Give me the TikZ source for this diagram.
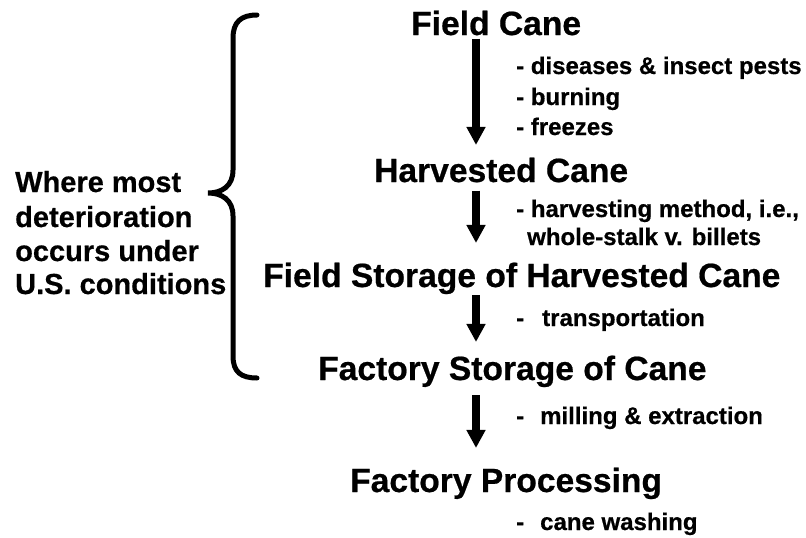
\documentclass[tikz,border=0pt]{standalone}
\usepackage{fontspec}
\setmainfont{Liberation Sans}[BoldFeatures={FakeBold=0.6}]
\usetikzlibrary{arrows.meta}
\begin{document}
\begin{tikzpicture}[x=1pt,y=-1pt,
  title/.style={anchor=base west,inner sep=0pt,font=\fontsize{33.6}{40}\selectfont\bfseries},
  note/.style={anchor=base west,inner sep=0pt,font=\fontsize{24}{28}\selectfont\bfseries},
  side/.style={anchor=base west,inner sep=0pt,font=\fontsize{29}{33}\selectfont\bfseries},
  arr/.style={line width=8pt,-{Triangle[width=18pt,length=18pt]}},
  brace/.style={line width=5pt,line cap=round}]
\useasboundingbox (0,0) rectangle (806,538);
\coordinate (ax) at (476,0);
% stages
\node[title] (fc) at (411,35) {Field Cane};
\node[title] (hc) at (374,182) {Harvested Cane};
\node[title] (fs) at (263,287) {Field Storage of Harvested Cane};
\node[title] (ft) at (318,380) {Factory Storage of Cane};
\node[title] (fp) at (350,492) {Factory Processing};
% notes
\node[note] (n1) at (516,74) {- diseases \& insect pests};
\node[note] (n2) at (516,105) {- burning};
\node[note] (n3) at (516,135) {- freezes};
\node[note] (n4) at (516,217) {- harvesting method, i.e.,};
\node[note] (n5) at (527,245) {whole-stalk v. billets};
\node[note] (n6) at (516,326) {-\hspace{18pt}transportation};
\node[note] (n7) at (516,424) {-\hspace{16pt}milling \& extraction};
\node[note] (n8) at (516,530) {-\hspace{16pt}cane washing};
% side text
\node[side] (s1) at (15,192) {Where most};
\node[side] (s2) at (15,227) {deterioration};
\node[side] (s3) at (15,261) {occurs under};
\node[side] (s4) at (15,294) {U.S. conditions};
% arrows
\draw[arr,shorten <=3pt,shorten >=12.5pt] (fc.south -| ax) -- (hc.north -| ax);
\draw[arr,shorten <=8pt,shorten >=19.5pt] (hc.south -| ax) -- (fs.north -| ax);
\draw[arr,shorten <=1pt,shorten >=13.5pt] (fs.south -| ax) -- (ft.north -| ax);
\draw[arr,shorten <=8pt,shorten >=19.5pt] (ft.south -| ax) -- (fp.north -| ax);
% brace
\draw[brace] (257,15) .. controls (241,15) and (233,22) .. (233,38) -- (233,170)
  .. controls (233,186) and (222,193) .. (208,193)
  .. controls (222,193) and (233,200) .. (233,216) -- (233,356)
  .. controls (233,372) and (241,378) .. (257,378);
\end{tikzpicture}
\end{document}
